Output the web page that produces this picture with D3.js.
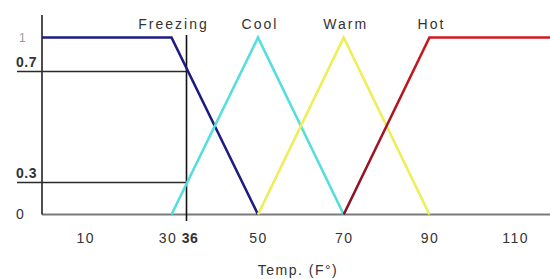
<!DOCTYPE html>
<html>
<head>
<meta charset="utf-8">
<script src="https://cdn.jsdelivr.net/npm/d3@7"></script>
<style>
body { margin: 0; background: #fff; }
svg { display: block; font-family: "Liberation Sans", Arial, sans-serif; }
.lbl { font-size: 14px; fill: #333; letter-spacing: 2px; }
.tick text { font-size: 14px; fill: #333; letter-spacing: 1.5px; }
</style>
</head>
<body>
<svg width="550" height="279"></svg>
<script>
// fuzzy sets: [temperature, membership]
var setNames = ["Freezing", "Cool", "Warm", "Hot"];
var setPeaks = [30, 50, 70, 90];
var freezing = [[0, 1], [30, 1], [50, 0]];
var cool = [[30, 0], [50, 1], [70, 0]];
var warm = [[50, 0], [70, 1], [90, 0]];
var hot = [[70, 0], [90, 1], [120, 1]];
var xTicks = [10, 30, 36, 50, 70, 90, 110];
var yTicks = [0, 0.3, 0.7, 1];
var reading = 36;
var readingGrades = [0.7, 0.3];

var svg = d3.select("svg");

// the drawing is not to scale, so the scales bend at the marked values
var x = d3.scaleLinear().domain([0, 30, reading, 50, 120]).range([42, 171.5, 186.5, 258, 558]);
var y = d3.scaleLinear().domain([0, 0.3, 0.7, 1]).range([214.5, 182.5, 71.5, 37.5]);

var line = d3.line()
    .x(function(d) { return x(d[0]); })
    .y(function(d) { return y(d[1]); });

// gradient for the hot set (dark red rising, red flat)
var grad = svg.append("defs").append("linearGradient")
    .attr("id", "hotGrad")
    .attr("gradientUnits", "userSpaceOnUse")
    .attr("x1", x(70)).attr("x2", x(92))
    .attr("y1", 0).attr("y2", 0);
grad.append("stop").attr("offset", "0%").attr("stop-color", "#861326");
grad.append("stop").attr("offset", "100%").attr("stop-color", "#d3191f");

// x baseline
svg.append("line")
    .attr("x1", x(0)).attr("x2", 550)
    .attr("y1", y(0)).attr("y2", y(0))
    .style("stroke", "#7a7a7a")
    .style("stroke-width", 2);

// y axis line
svg.append("line")
    .attr("x1", x(0)).attr("x2", x(0))
    .attr("y1", 15).attr("y2", y(0))
    .style("stroke", "#222")
    .style("stroke-width", 1.6);

// guide lines for the 36 reading
svg.selectAll(".guide")
    .data(readingGrades)
    .enter().append("line")
    .attr("class", "guide")
    .attr("x1", 17).attr("x2", x(reading))
    .attr("y1", function(d) { return y(d); })
    .attr("y2", function(d) { return y(d); })
    .style("stroke", "#2a2a2a")
    .style("stroke-width", 1.6);

svg.append("line")
    .attr("x1", x(reading)).attr("x2", x(reading))
    .attr("y1", 35).attr("y2", 221)
    .style("stroke", "#111")
    .style("stroke-width", 1.6);

// membership lines
var sets = [
    {data: freezing, color: "#1c1c84"},
    {data: cool, color: "#55dede"},
    {data: warm, color: "#eeee58"},
    {data: hot, color: "url(#hotGrad)"}
];
sets.forEach(function(s) {
    svg.append("path")
        .datum(s.data)
        .attr("d", line)
        .style("fill", "none")
        .style("stroke", s.color)
        .style("stroke-width", 2.6)
        .style("stroke-linejoin", "miter");
});

// set names above peaks
svg.selectAll(".lbl")
    .data(setNames)
    .enter().append("text")
    .attr("class", "lbl")
    .attr("x", function(d, i) { return x(setPeaks[i]) + 2; })
    .attr("y", 29)
    .attr("text-anchor", "middle")
    .text(function(d) { return d; });

// x tick labels
var gx = svg.append("g")
    .attr("transform", "translate(0," + y(0) + ")")
    .call(d3.axisBottom(x).tickValues(xTicks).tickSize(0).tickPadding(19));
gx.select(".domain").remove();
gx.selectAll(".tick text")
    .attr("dx", function(d) { return d == 30 ? -4 : d == reading ? 3 : 0; })
    .style("font-weight", function(d) { return d == reading ? "bold" : null; })
    .style("letter-spacing", function(d) { return d == reading ? "0.5px" : null; });

// y tick labels
var gy = svg.append("g")
    .attr("transform", "translate(" + x(0) + ",0)")
    .call(d3.axisLeft(y).tickValues(yTicks).tickSize(0).tickFormat(function(d) { return d; }));
gy.select(".domain").remove();
gy.selectAll(".tick text")
    .attr("text-anchor", "start")
    .attr("x", function(d) { return d == 1 ? -23 : -26; })
    .attr("dy", function(d) { return (d == 0.3 || d == 0.7) ? "-0.35em" : "0.32em"; })
    .style("font-weight", function(d) { return (d == 0.3 || d == 0.7) ? "bold" : null; })
    .style("letter-spacing", "0.5px")
    .style("font-size", function(d) { return d == 1 ? "12px" : "14px"; })
    .style("fill", function(d) { return d == 1 ? "#999" : "#333"; });

// axis title
svg.append("text")
    .attr("class", "lbl")
    .attr("x", 298)
    .attr("y", 275)
    .attr("text-anchor", "middle")
    .style("letter-spacing", "1.5px")
    .text("Temp. (F\u00b0)");
</script>
</body>
</html>
